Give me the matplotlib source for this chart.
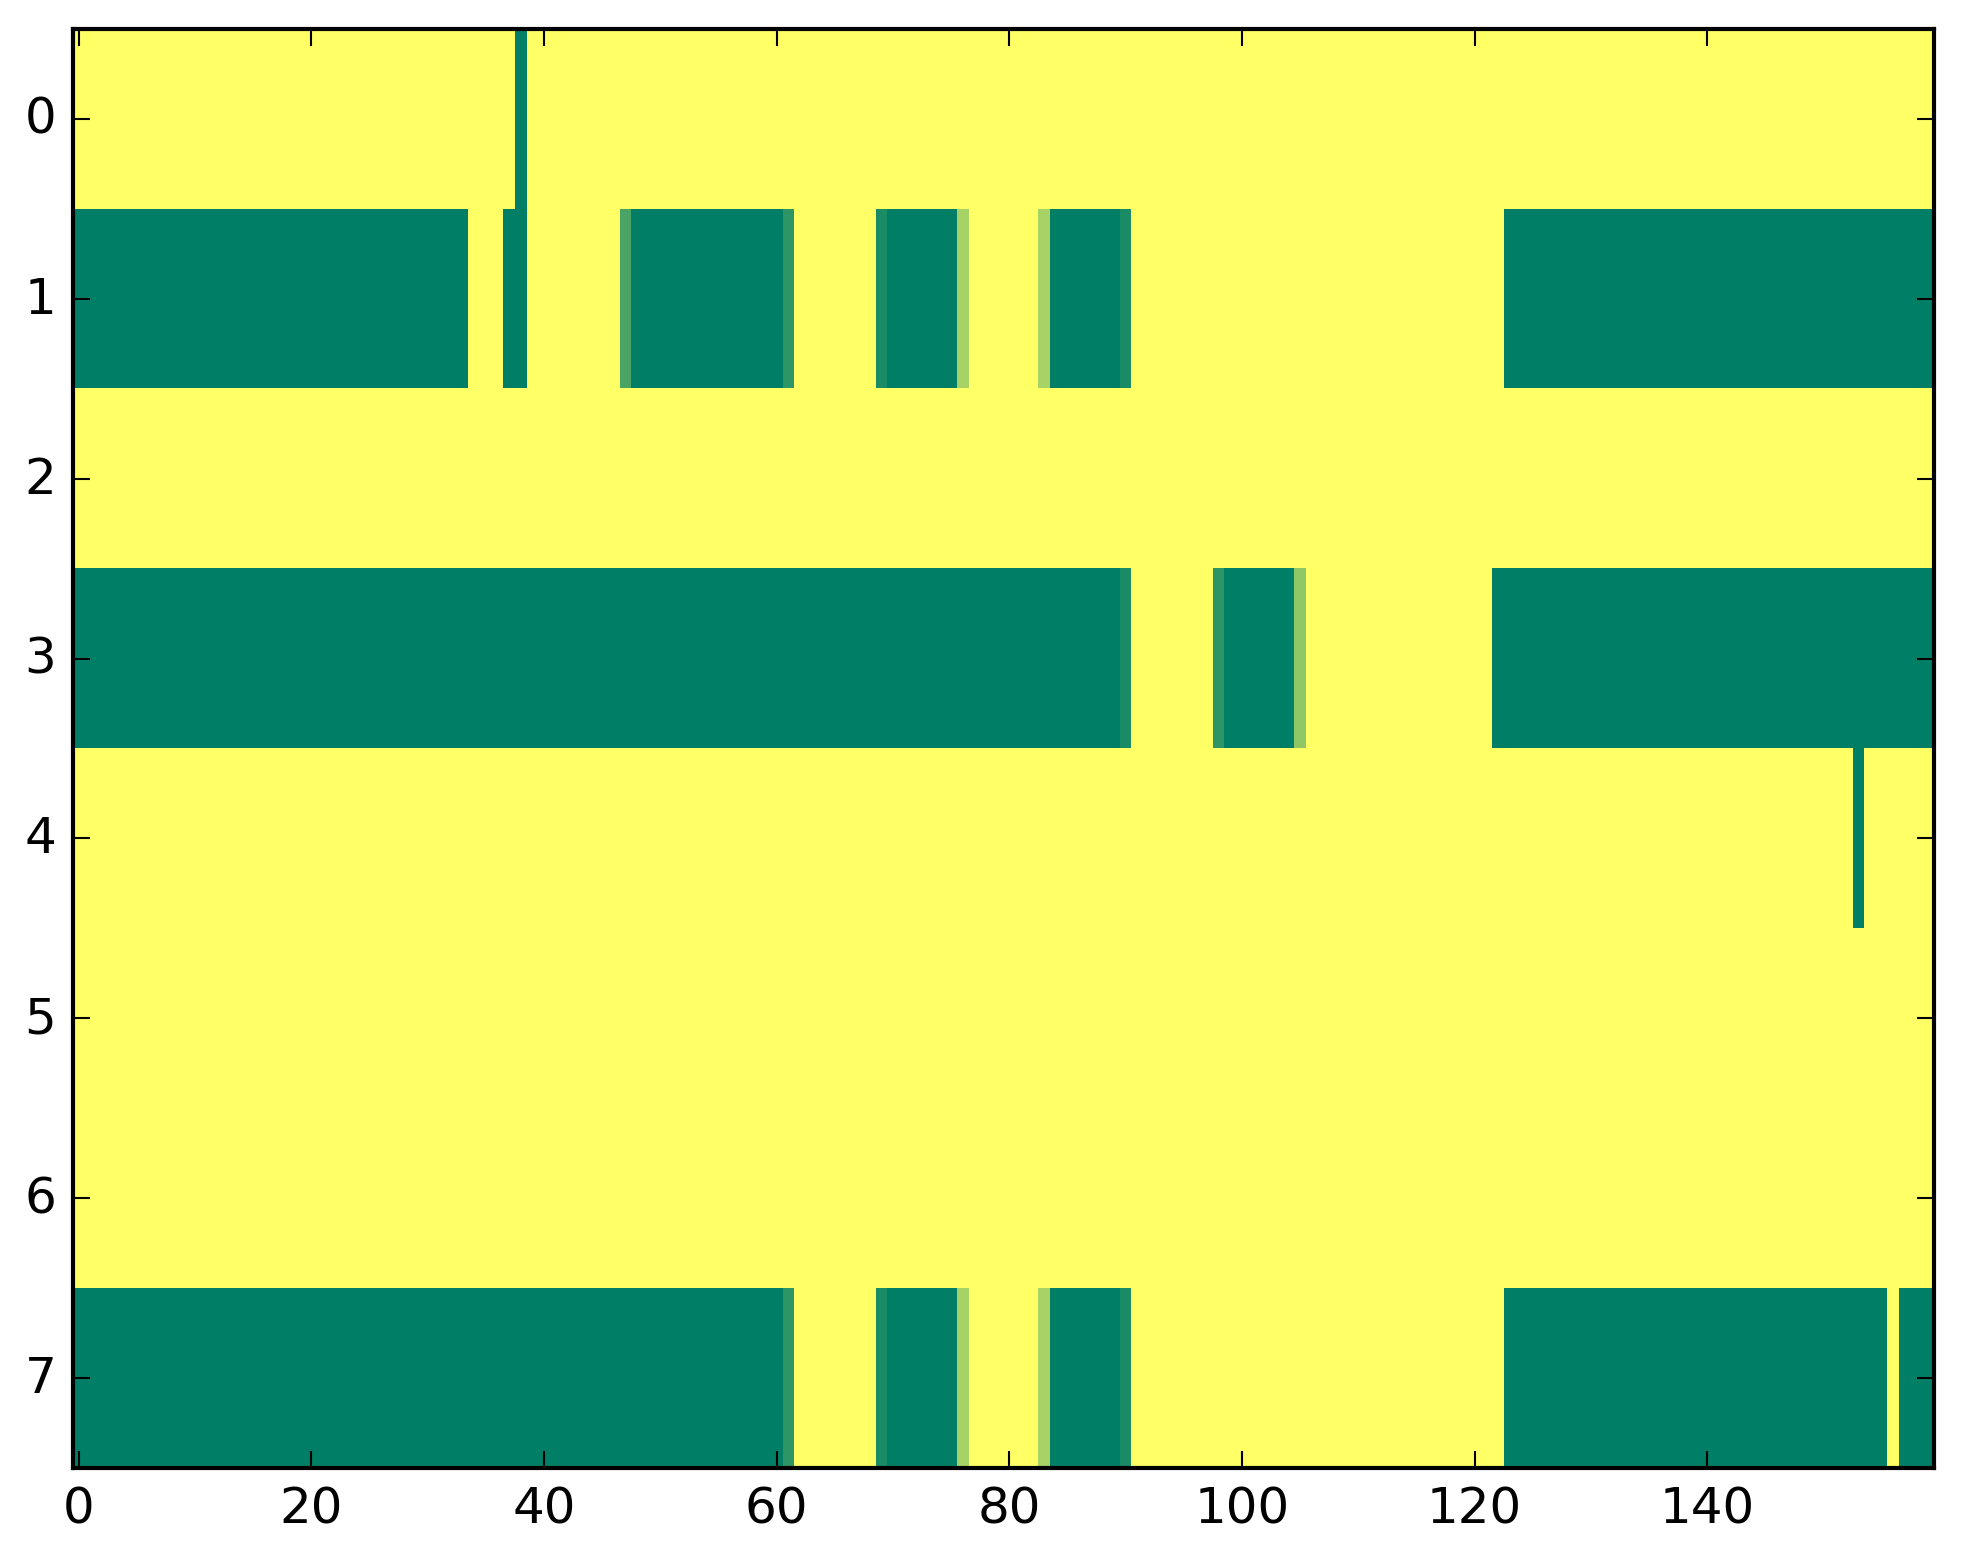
import numpy as np
import matplotlib
matplotlib.use("Agg")
import matplotlib.pyplot as plt

# Each row given as runs of (value, count), 160 columns per row
row0 = [(1, 38), (0, 1), (1, 121)]
row1 = [(0, 34), (1, 3), (0, 2), (1, 8), (0.29, 1), (0, 13), (0.18, 1), (1, 7),
        (0.1, 1), (0, 6), (0.65, 1), (1, 6), (0.65, 1), (0, 6), (0.1, 1), (1, 32), (0, 37)]
row2 = [(1, 160)]
row3 = [(0, 90), (0.1, 1), (1, 7), (0.18, 1), (0, 6), (0.56, 1), (1, 16), (0, 38)]
row4 = [(1, 153), (0, 1), (1, 6)]
row5 = [(1, 160)]
row6 = [(1, 160)]
row7 = [(0, 61), (0.18, 1), (1, 7), (0.1, 1), (0, 6), (0.65, 1), (1, 6), (0.65, 1),
        (0, 6), (0.1, 1), (1, 32), (0, 33), (1, 1), (0, 3)]

rows = [row0, row1, row2, row3, row4, row5, row6, row7]
x_ticks = [0, 20, 40, 60, 80, 100, 120, 140]
y_ticks = [0, 1, 2, 3, 4, 5, 6, 7]


def expand(runs):
    out = []
    for v, n in runs:
        out.extend([v] * n)
    return out


data = np.array([expand(r) for r in rows], dtype=float)

plt.style.use("classic")
fig = plt.figure(figsize=(1963 / 300, 1564 / 300), dpi=300)
ax = fig.add_axes([73 / 1963, 1 - 1469 / 1564, (1934 - 73) / 1963, (1469 - 30) / 1564])
ax.imshow(data, cmap="summer", vmin=0, vmax=1, aspect="auto", interpolation="nearest")
ax.set_xticks(x_ticks)
ax.set_yticks(y_ticks)
ax.set_xlim(-0.5, data.shape[1] - 0.5)
ax.set_ylim(data.shape[0] - 0.5, -0.5)
fig.savefig("out.png", dpi=300)
